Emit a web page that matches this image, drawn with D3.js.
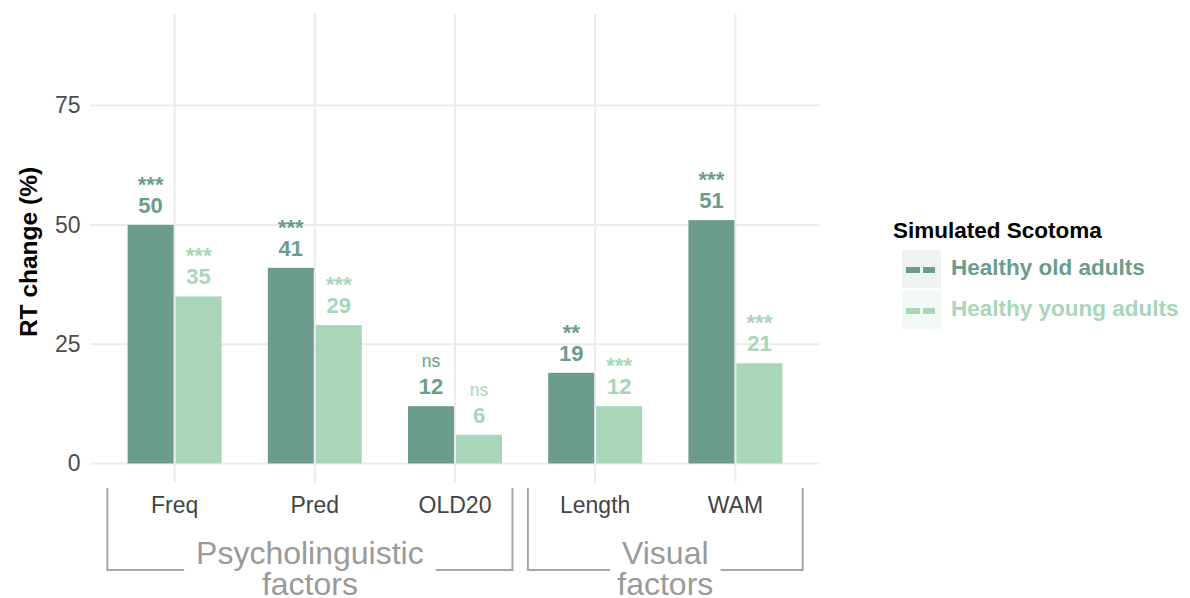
<!DOCTYPE html>
<html>
<head>
<meta charset="utf-8">
<script src="https://cdn.jsdelivr.net/npm/d3@7"></script>
<style>
  html, body { margin: 0; padding: 0; background: #fff; }
  svg { display: block; font-family: "Liberation Sans", Arial, sans-serif; }
</style>
</head>
<body>
<svg id="chart" width="1190" height="598"></svg>
<script>
// Word-level factors and simulated-scotoma RT effects
const factors = ["Freq", "Pred", "OLD20", "Length", "WAM"];
const groups = ["Healthy old adults", "Healthy young adults"];
const oldValues = [50, 41, 12, 19, 51];
const youngValues = [35, 29, 6, 12, 21];
const oldSig = ["***", "***", "ns", "**", "***"];
const youngSig = ["***", "***", "ns", "***", "***"];
const yTicks = [0, 25, 50, 75];
const factorGroups = [
  { lines: ["Psycholinguistic", "factors"], from: "Freq", to: "OLD20" },
  { lines: ["Visual", "factors"], from: "Length", to: "WAM" }
];

const colors = { "Healthy old adults": "#6c9c8d", "Healthy young adults": "#a9d5b9" };
const keyBg = { "Healthy old adults": "#eef3f1", "Healthy young adults": "#f2f8f4" };

const svg = d3.select("#chart");
const panel = { left: 90.5, right: 819.5, top: 14, bottom: 483 };

// Discrete x: categories spaced evenly with 0.6 step padding on each end
const x = d3.scalePoint().domain(factors)
  .range([panel.left, panel.right]).padding(0.6);
const y = d3.scaleLinear().domain([-4.1, 94.2]).range([panel.bottom, panel.top]);

const step = x.step();
const barW = 46;
const offset = 24;

// Grid
const grid = svg.append("g");
grid.selectAll("line.h").data(yTicks).join("line")
  .attr("x1", panel.left).attr("x2", panel.right)
  .attr("y1", d => y(d)).attr("y2", d => y(d))
  .attr("stroke", "#ebebeb").attr("stroke-width", 2);
grid.selectAll("line.v").data(factors).join("line")
  .attr("x1", d => x(d)).attr("x2", d => x(d))
  .attr("y1", panel.top).attr("y2", panel.bottom)
  .attr("stroke", "#ebebeb").attr("stroke-width", 2);

// Y axis labels
const yAxis = svg.append("g")
  .attr("transform", `translate(${panel.left - 10},0)`)
  .call(d3.axisLeft(y).tickValues(yTicks).tickSize(0).tickPadding(0));
yAxis.select(".domain").remove();
yAxis.selectAll("text")
  .attr("font-size", 23).attr("fill", "#4d4d4d")
  .attr("font-family", "Liberation Sans, Arial, sans-serif");

svg.append("text")
  .attr("transform", `translate(37,252) rotate(-90)`)
  .attr("text-anchor", "middle")
  .attr("font-size", 24.5).attr("font-weight", "bold").attr("fill", "#000")
  .text("RT change (%)");

// Bars
const rows = [];
factors.forEach((f, i) => {
  rows.push({ f, g: groups[0], v: oldValues[i], sig: oldSig[i], dx: -offset });
  rows.push({ f, g: groups[1], v: youngValues[i], sig: youngSig[i], dx: offset });
});

svg.append("g").selectAll("rect").data(rows).join("rect")
  .attr("x", d => x(d.f) + d.dx - barW / 2)
  .attr("width", barW)
  .attr("y", d => y(d.v))
  .attr("height", d => y(0) - y(d.v))
  .attr("fill", d => colors[d.g]);

// Value labels and significance marks
const lab = svg.append("g").attr("text-anchor", "middle");
lab.selectAll("text.val").data(rows).join("text")
  .attr("x", d => x(d.f) + d.dx)
  .attr("y", d => y(d.v) - 12)
  .attr("font-size", 22).attr("font-weight", "bold")
  .attr("fill", d => colors[d.g])
  .text(d => d.v);
lab.selectAll("text.sig").data(rows).join("text")
  .attr("x", d => x(d.f) + d.dx)
  .attr("y", d => d.sig === "ns" ? y(d.v) - 39 : y(d.v) - 33)
  .attr("font-size", d => d.sig === "ns" ? 17.5 : 22)
  .attr("font-weight", d => d.sig === "ns" ? "normal" : "bold")
  .attr("fill", d => colors[d.g])
  .text(d => d.sig);

// Category labels
svg.append("g").selectAll("text").data(factors).join("text")
  .attr("x", d => x(d)).attr("y", 513)
  .attr("text-anchor", "middle")
  .attr("font-size", 23).attr("fill", "#444")
  .text(d => d);

// Group brackets beneath the category labels
const br = svg.append("g");
const bTop = 488, bBot = 570;
const bracketPad = [[0.48, 0.41], [0.48, 0.48]];
factorGroups.forEach((g, i) => {
  const x0 = x(g.from) - step * bracketPad[i][0];
  const x1 = x(g.to) + step * bracketPad[i][1];
  const cx = (x0 + x1) / 2;
  const t = br.append("text").attr("text-anchor", "middle")
    .attr("font-size", 32).attr("fill", "#9a9a9a");
  g.lines.forEach((s, k) => {
    t.append("tspan").attr("x", cx).attr("y", 564 + k * 31).text(s);
  });
  const halfText = t.select("tspan").node().getComputedTextLength() / 2 + 12;
  const path = d3.path();
  path.moveTo(x0, bTop); path.lineTo(x0, bBot); path.lineTo(cx - halfText, bBot);
  path.moveTo(cx + halfText, bBot); path.lineTo(x1, bBot); path.lineTo(x1, bTop);
  br.append("path").attr("d", path.toString())
    .attr("fill", "none").attr("stroke", "#a6a6a6").attr("stroke-width", 2);
});

// Legend
const lg = svg.append("g").attr("transform", "translate(893,0)");
lg.append("text").attr("x", 0).attr("y", 238)
  .attr("font-size", 22.5).attr("font-weight", "bold").attr("fill", "#000")
  .text("Simulated Scotoma");
groups.forEach((g, i) => {
  const ky = 250 + i * 41;
  lg.append("rect").attr("x", 9).attr("y", ky).attr("width", 39).attr("height", 38)
    .attr("fill", keyBg[g]);
  lg.append("line").attr("x1", 13).attr("x2", 42)
    .attr("y1", ky + 20).attr("y2", ky + 20)
    .attr("stroke", colors[g]).attr("stroke-width", 6)
    .attr("stroke-dasharray", "14,3");
  lg.append("text").attr("x", 58).attr("y", ky + 25)
    .attr("font-size", 22.5).attr("font-weight", "bold").attr("fill", colors[g])
    .text(g);
});
</script>
</body>
</html>
